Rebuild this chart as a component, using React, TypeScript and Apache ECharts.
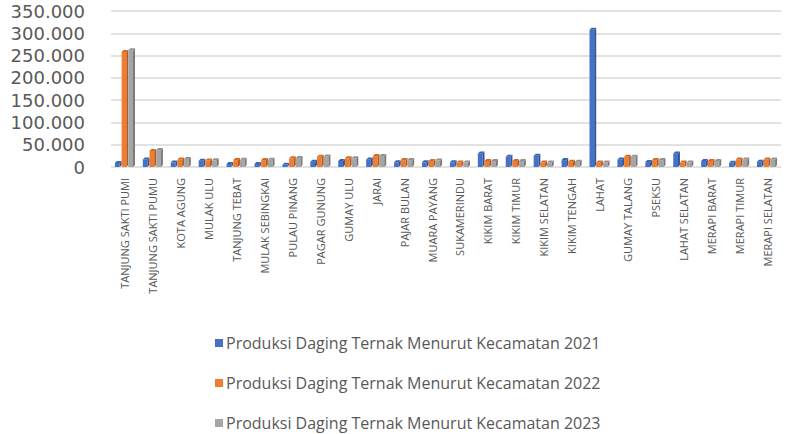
import React, { useEffect, useRef } from "react";
import * as echarts from "echarts";

const categories = [
  "TANJUNG SAKTI PUMI", "TANJUNG SAKTI PUMU", "KOTA AGUNG", "MULAK ULU", "TANJUNG TEBAT",
  "MULAK SEBINGKAI", "PULAU PINANG", "PAGAR GUNUNG", "GUMAY ULU", "JARAI", "PAJAR BULAN",
  "MUARA PAYANG", "SUKAMERINDU", "KIKIM BARAT", "KIKIM TIMUR", "KIKIM SELATAN", "KIKIM TENGAH",
  "LAHAT", "GUMAY TALANG", "PSEKSU", "LAHAT SELATAN", "MERAPI BARAT", "MERAPI TIMUR", "MERAPI SELATAN",
];

const values2021 = [9000, 17000, 10000, 14000, 7000, 7000, 5000, 12000, 13500, 17000, 10500, 10500,
  10500, 30500, 23000, 25500, 15500, 308000, 17000, 11000, 30500, 13500, 9500, 12000];
const values2022 = [258000, 36000, 17000, 14500, 15500, 15500, 19500, 23000, 19500, 24500, 15500, 13500,
  10000, 13500, 13500, 10000, 12000, 10000, 23000, 15500, 10000, 13500, 17000, 17000];
const values2023 = [262000, 38000, 18000, 15000, 16000, 16000, 20000, 23500, 19500, 24500, 15500, 14500,
  10000, 13500, 13500, 10000, 12000, 10000, 23000, 15500, 10000, 13500, 17000, 17000];

const seriesNames = [
  "Produksi Daging Ternak Menurut Kecamatan 2021",
  "Produksi Daging Ternak Menurut Kecamatan 2022",
  "Produksi Daging Ternak Menurut Kecamatan 2023",
];
const seriesValues = [values2021, values2022, values2023];
const colors = ["#4472C4", "#ED7D31", "#A5A5A5"];
const sideColors = ["#2F5597", "#B85B1C", "#7B7B7B"];
const topColors = ["#3A63AE", "#D46A24", "#919191"];

const yTicks = { min: 0, max: 350000, interval: 50000 };

function fmt(v: number) {
  return String(v).replace(/\B(?=(\d{3})+(?!\d))/g, ".");
}

export default function App() {
  const ref = useRef<HTMLDivElement>(null);
  useEffect(() => {
    if (!ref.current) return;
    const chart = echarts.init(ref.current, undefined, { renderer: "svg" });
    const series = seriesValues.map((vals, s) => ({
      type: "custom",
      name: seriesNames[s],
      itemStyle: { color: colors[s] },
      encode: { x: 0, y: 1 },
      data: vals.map((v, i) => [i, v]),
      renderItem: (params: any, api: any) => {
        const i = api.value(0);
        const v = api.value(1);
        const band = api.size([1, 0])[0];
        const groupW = band * 0.72;
        const barW = groupW / 3;
        const c = api.coord([i, v]);
        const base = api.coord([i, 0])[1];
        const x0 = c[0] - groupW / 2 + s * barW;
        const d = 2;
        const fw = barW - d;
        const yt = c[1];
        return {
          type: "group",
          children: [
            { type: "rect", shape: { x: x0, y: yt, width: fw, height: base - yt }, style: { fill: colors[s] } },
            { type: "polygon", shape: { points: [[x0 + fw, yt], [x0 + fw + d, yt - d], [x0 + fw + d, base - d], [x0 + fw, base]] }, style: { fill: sideColors[s] } },
            { type: "polygon", shape: { points: [[x0, yt], [x0 + d, yt - d], [x0 + fw + d, yt - d], [x0 + fw, yt]] }, style: { fill: topColors[s] } },
          ],
        };
      },
    }));
    chart.setOption({
      animation: false,
      backgroundColor: "#ffffff",
      grid: { left: 111, right: 5, top: 11, bottom: 267 },
      xAxis: {
        type: "category",
        data: categories,
        axisLine: { show: false },
        axisTick: { show: false },
        axisLabel: {
          rotate: 90,
          interval: 0,
          fontSize: 11,
          fontFamily: "Open Sans",
          color: "#595959",
          margin: 11,
        },
      },
      yAxis: {
        type: "value",
        min: yTicks.min,
        max: yTicks.max,
        interval: yTicks.interval,
        axisLine: { show: false },
        axisTick: { show: false },
        splitLine: { lineStyle: { color: "#D9D9D9", width: 1.5 } },
        axisLabel: {
          formatter: (v: number) => fmt(v),
          fontSize: 18,
          fontFamily: "DejaVu Sans",
          color: "#595959",
          margin: 26,
          padding: [7, 0, 0, 0],
        },
      },
      legend: {
        orient: "vertical",
        left: 215,
        top: 335,
        padding: 0,
        itemWidth: 8,
        itemHeight: 8,
        itemGap: 24,
        icon: "rect",
        textStyle: { fontSize: 16, lineHeight: 16, fontFamily: "Open Sans", color: "#595959", padding: [0, 0, 0, -2] },
        data: seriesNames,
      },
      series,
    });
    return () => chart.dispose();
  }, []);
  return <div ref={ref} style={{ width: 786, height: 434, position: "absolute", left: 0, top: 0 }} />;
}
